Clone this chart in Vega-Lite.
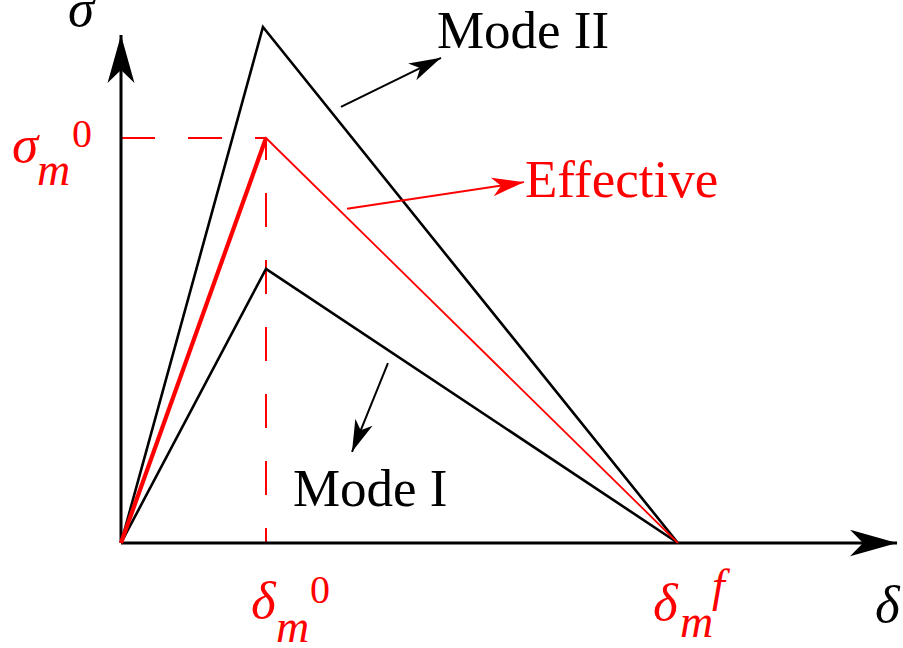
{
  "$schema": "https://vega.github.io/schema/vega-lite/v6.json",
  "width": 903,
  "height": 648,
  "autosize": {"type": "none"},
  "padding": 0,
  "background": "white",
  "config": {"view": {"stroke": null}},
  "datasets": {
    "curves": [
      {"curve": "Mode II", "delta": 0, "sigma": 0},
      {"curve": "Mode II", "delta": 0.979, "sigma": 1.274},
      {"curve": "Mode II", "delta": 3.841, "sigma": 0},
      {"curve": "Effective", "delta": 0, "sigma": 0},
      {"curve": "Effective", "delta": 1, "sigma": 1},
      {"curve": "Effective", "delta": 3.841, "sigma": 0},
      {"curve": "Mode I", "delta": 0, "sigma": 0},
      {"curve": "Mode I", "delta": 1, "sigma": 0.677},
      {"curve": "Mode I", "delta": 3.841, "sigma": 0}
    ],
    "guides": [
      {"curve": "Effective", "dir": "h", "delta": 0, "sigma": 1, "delta2": 1, "sigma2": 1},
      {"curve": "Effective", "dir": "v", "delta": 1, "sigma": 1, "delta2": 1, "sigma2": 0}
    ],
    "arrows": [
      {"curve": "axis", "name": "delta axis", "delta": 0, "sigma": 0, "delta2": 5.352, "sigma2": 0},
      {"curve": "axis", "name": "sigma axis", "delta": 0, "sigma": 0, "delta2": 0, "sigma2": 1.254},
      {"curve": "Mode II", "name": "Mode II", "delta": 1.517, "sigma": 1.077, "delta2": 2.207, "sigma2": 1.198},
      {"curve": "Effective", "name": "Effective", "delta": 1.559, "sigma": 0.825, "delta2": 2.779, "sigma2": 0.891},
      {"curve": "Mode I", "name": "Mode I", "delta": 1.841, "sigma": 0.444, "delta2": 1.593, "sigma2": 0.225}
    ],
    "labels": [
      {"curve": "Mode II", "role": "name", "text": "Mode II", "delta": 2.179, "sigma": 1.222},
      {"curve": "Effective", "role": "name", "text": "Effective", "delta": 2.786, "sigma": 0.854},
      {"curve": "Mode I", "role": "name", "text": "Mode I", "delta": 1.186, "sigma": 0.0914},
      {"curve": "axis", "role": "greek", "text": "σ", "delta": -0.3655, "sigma": 1.2765},
      {"curve": "axis", "role": "greek", "text": "δ", "delta": 5.2, "sigma": -0.1951},
      {"curve": "Effective", "role": "greek", "text": "σ", "delta": -0.7517, "sigma": 0.9407},
      {"curve": "Effective", "role": "index", "text": "m", "delta": -0.5793, "sigma": 0.884},
      {"curve": "Effective", "role": "digit", "text": "0", "delta": -0.3379, "sigma": 0.9778},
      {"curve": "Effective", "role": "greek", "text": "δ", "delta": 0.8966, "sigma": -0.1852},
      {"curve": "Effective", "role": "index", "text": "m", "delta": 1.069, "sigma": -0.2444},
      {"curve": "Effective", "role": "digit", "text": "0", "delta": 1.3034, "sigma": -0.1481},
      {"curve": "Effective", "role": "greek", "text": "δ", "delta": 3.669, "sigma": -0.1901},
      {"curve": "Effective", "role": "index", "text": "m", "delta": 3.855, "sigma": -0.2321},
      {"curve": "Effective", "role": "index", "text": "f", "delta": 4.076, "sigma": -0.1432}
    ]
  },
  "encoding": {
    "x": {"field": "delta", "type": "quantitative", "scale": {"domain": [-0.8345, 5.3931], "nice": false, "zero": false}, "axis": null},
    "y": {"field": "sigma", "type": "quantitative", "scale": {"domain": [-0.2593, 1.3407], "nice": false, "zero": false}, "axis": null},
    "color": {"field": "curve", "type": "nominal", "scale": {"domain": ["Mode II", "Mode I", "Effective", "axis"], "range": ["#000000", "#000000", "#ff0000", "#000000"]}, "legend": null}
  },
  "layer": [
    {
      "data": {"name": "guides"},
      "transform": [{"filter": "datum.dir === 'h'"}],
      "mark": {"type": "rule", "strokeWidth": 2, "strokeDash": [34, 33]},
      "encoding": {"x2": {"field": "delta2"}}
    },
    {
      "data": {"name": "guides"},
      "transform": [{"filter": "datum.dir === 'v'"}],
      "mark": {"type": "rule", "strokeWidth": 2, "strokeDash": [34, 33], "strokeDashOffset": 12},
      "encoding": {"y2": {"field": "sigma2"}}
    },
    {
      "data": {"name": "arrows"},
      "transform": [{"filter": "datum.curve === 'axis'"}],
      "mark": {"type": "rule", "strokeWidth": 3},
      "encoding": {"x2": {"field": "delta2"}, "y2": {"field": "sigma2"}}
    },
    {
      "data": {"name": "curves"},
      "transform": [{"filter": "datum.curve !== 'Effective'"}],
      "mark": {"type": "line", "strokeWidth": 2.6, "strokeJoin": "miter"}
    },
    {
      "data": {"name": "curves"},
      "transform": [{"filter": "datum.curve === 'Effective'"}],
      "mark": {"type": "line", "strokeWidth": 1.8, "strokeJoin": "miter"}
    },
    {
      "data": {"name": "curves"},
      "transform": [{"filter": "datum.curve === 'Effective' && datum.delta <= 1"}],
      "mark": {"type": "line", "strokeWidth": 4.2, "strokeCap": "butt"}
    },
    {
      "data": {"name": "arrows"},
      "transform": [{"filter": "datum.curve !== 'axis'"}],
      "mark": {"type": "rule", "strokeWidth": 2},
      "encoding": {"x2": {"field": "delta2"}, "y2": {"field": "sigma2"}}
    },
    {
      "data": {"name": "arrows"},
      "transform": [{"filter": "datum.name === 'delta axis'"}],
      "mark": {"type": "point", "shape": "M0,0 L-2,-0.56 L-1.45,0 L-2,0.56 Z", "size": 2209, "filled": true, "opacity": 1, "strokeWidth": 0, "angle": 0},
      "encoding": {"x": {"field": "delta2", "type": "quantitative"}, "y": {"field": "sigma2", "type": "quantitative"}}
    },
    {
      "data": {"name": "arrows"},
      "transform": [{"filter": "datum.name === 'sigma axis'"}],
      "mark": {"type": "point", "shape": "M0,0 L-2,-0.56 L-1.45,0 L-2,0.56 Z", "size": 2304, "filled": true, "opacity": 1, "strokeWidth": 0, "angle": -90},
      "encoding": {"x": {"field": "delta2", "type": "quantitative"}, "y": {"field": "sigma2", "type": "quantitative"}}
    },
    {
      "data": {"name": "arrows"},
      "transform": [{"filter": "datum.name === 'Mode II'"}],
      "mark": {"type": "point", "shape": "M0,0 L-2,-0.58 L-1.45,0 L-2,0.58 Z", "size": 1024, "filled": true, "opacity": 1, "strokeWidth": 0, "angle": -26},
      "encoding": {"x": {"field": "delta2", "type": "quantitative"}, "y": {"field": "sigma2", "type": "quantitative"}}
    },
    {
      "data": {"name": "arrows"},
      "transform": [{"filter": "datum.name === 'Effective'"}],
      "mark": {"type": "point", "shape": "M0,0 L-2,-0.58 L-1.45,0 L-2,0.58 Z", "size": 1024, "filled": true, "opacity": 1, "strokeWidth": 0, "angle": -8.7},
      "encoding": {"x": {"field": "delta2", "type": "quantitative"}, "y": {"field": "sigma2", "type": "quantitative"}}
    },
    {
      "data": {"name": "arrows"},
      "transform": [{"filter": "datum.name === 'Mode I'"}],
      "mark": {"type": "point", "shape": "M0,0 L-2,-0.58 L-1.45,0 L-2,0.58 Z", "size": 1024, "filled": true, "opacity": 1, "strokeWidth": 0, "angle": 112},
      "encoding": {"x": {"field": "delta2", "type": "quantitative"}, "y": {"field": "sigma2", "type": "quantitative"}}
    },
    {
      "data": {"name": "labels"},
      "transform": [{"filter": "datum.role === 'name'"}],
      "mark": {"type": "text", "font": "Liberation Serif", "fontSize": 53, "align": "left", "baseline": "alphabetic"},
      "encoding": {"text": {"field": "text"}}
    },
    {
      "data": {"name": "labels"},
      "transform": [{"filter": "datum.role === 'greek'"}],
      "mark": {"type": "text", "font": "Liberation Serif", "fontStyle": "italic", "fontSize": 53, "align": "left", "baseline": "alphabetic"},
      "encoding": {"text": {"field": "text"}}
    },
    {
      "data": {"name": "labels"},
      "transform": [{"filter": "datum.role === 'index'"}],
      "mark": {"type": "text", "font": "Liberation Serif", "fontStyle": "italic", "fontSize": 46, "align": "left", "baseline": "alphabetic"},
      "encoding": {"text": {"field": "text"}}
    },
    {
      "data": {"name": "labels"},
      "transform": [{"filter": "datum.role === 'digit'"}],
      "mark": {"type": "text", "font": "Liberation Serif", "fontSize": 40, "align": "left", "baseline": "alphabetic"},
      "encoding": {"text": {"field": "text"}}
    }
  ]
}
